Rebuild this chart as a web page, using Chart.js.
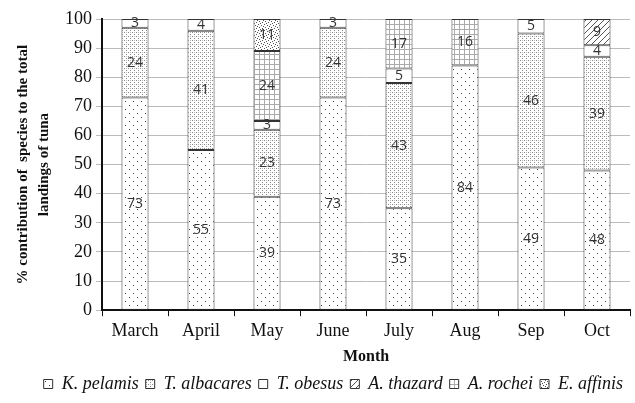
<!DOCTYPE html>
<html>
<head>
<meta charset="utf-8">
<script src="https://cdn.jsdelivr.net/npm/chart.js@4"></script>
<style>
  html, body { margin: 0; padding: 0; background: #fff; }
  #wrap { width: 635px; height: 403px; }
</style>
</head>
<body>
<div id="wrap"><canvas id="barChart" width="635" height="403"></canvas></div>
<script>
// data (percent of total tuna landings)
const months = ['March', 'April', 'May', 'June', 'July', 'Aug', 'Sep', 'Oct'];
const species = ['K. pelamis', 'T. albacares', 'T. obesus', 'A. thazard', 'A. rochei', 'E. affinis'];
const kPelamis   = [73, 55, 39, 73, 35, 84, 49, 48];
const tAlbacares = [24, 41, 23, 24, 43, null, 46, 39];
const tObesus    = [3, 4, 3, 3, 5, null, 5, 4];
const aThazard   = [null, null, null, null, null, null, null, 9];
const aRochei    = [null, null, 24, null, 17, 16, null, null];
const eAffinis   = [null, null, 11, null, null, null, null, null];
const yTicks = [0, 10, 20, 30, 40, 50, 60, 70, 80, 90, 100];

// fill patterns
function makePattern(size, draw) {
  const c = document.createElement('canvas');
  c.width = size; c.height = size;
  const g = c.getContext('2d');
  g.fillStyle = '#fff';
  g.fillRect(0, 0, size, size);
  draw(g);
  return g.createPattern(c, 'repeat');
}
const sparseDots = makePattern(8, g => {
  g.fillStyle = '#444';
  g.fillRect(1, 1, 1, 1);
  g.fillRect(5, 5, 1, 1);
});
const denseDots = makePattern(4, g => {
  g.fillStyle = '#888';
  g.fillRect(0, 0, 1, 1);
  g.fillRect(2, 2, 1, 1);
  g.fillStyle = '#bbb';
  g.fillRect(2, 0, 1, 1);
});
const plain = '#fff';
const hatch = makePattern(6, g => {
  g.strokeStyle = '#555';
  g.lineWidth = 1;
  g.beginPath();
  g.moveTo(0, 6); g.lineTo(6, 0);
  g.moveTo(-1, 1); g.lineTo(1, -1);
  g.moveTo(5, 7); g.lineTo(7, 5);
  g.stroke();
});
const grid = makePattern(5, g => {
  g.fillStyle = '#aaa';
  g.fillRect(0, 4, 5, 1);
  g.fillRect(4, 0, 1, 5);
});
const speckle = makePattern(6, g => {
  g.fillStyle = '#555';
  [[0,0],[3,1],[1,3],[4,4],[2,5],[5,2]].forEach(p => g.fillRect(p[0], p[1], 1, 1));
});

const fills = [sparseDots, denseDots, plain, hatch, grid, speckle];
const series = [kPelamis, tAlbacares, tObesus, aThazard, aRochei, eAffinis];

// numbers written in the middle of each segment
const segmentLabels = {
  id: 'segmentLabels',
  afterDatasetsDraw(chart) {
    const ctx = chart.ctx;
    ctx.save();
    ctx.font = '14px "Open Sans", "DejaVu Sans", sans-serif';
    ctx.fillStyle = '#333';
    ctx.textAlign = 'center';
    ctx.textBaseline = 'middle';
    chart.data.datasets.forEach((ds, i) => {
      const meta = chart.getDatasetMeta(i);
      meta.data.forEach((bar, j) => {
        const v = ds.data[j];
        if (v == null) return;
        ctx.fillText(v, bar.x, (bar.y + bar.base) / 2);
      });
    });
    ctx.restore();
  }
};

const serif = '"Liberation Serif", "Times New Roman", serif';

new Chart(document.getElementById('barChart').getContext('2d'), {
  type: 'bar',
  data: {
    labels: months,
    datasets: series.map((d, i) => ({
      label: species[i],
      data: d,
      backgroundColor: fills[i],
      borderColor: '#333',
      borderWidth: 1,
      borderSkipped: false,
      categoryPercentage: 1,
      barPercentage: 0.41,
    })),
  },
  options: {
    responsive: false,
    animation: false,
    layout: { padding: { top: 19, right: 5, left: 9, bottom: 0 } },
    scales: {
      x: {
        stacked: true,
        border: { color: '#111', width: 2 },
        grid: { drawOnChartArea: false, drawTicks: true, tickLength: 6, color: '#111' },
        ticks: { color: '#111', font: { family: serif, size: 18 }, padding: 4 },
        title: { display: true, text: 'Month', color: '#111', font: { family: serif, size: 16, weight: 'bold' }, padding: { top: 1, bottom: 2 } },
      },
      y: {
        stacked: true,
        min: 0,
        max: 100,
        afterBuildTicks: axis => { axis.ticks = yTicks.map(v => ({ value: v })); },
        border: { color: '#111', width: 2 },
        grid: { color: '#bbb', tickLength: 6 },
        ticks: { color: '#111', font: { family: serif, size: 18 }, padding: 4 },
        title: {
          display: true,
          text: ['% contribution of  species to the total', 'landings of tuna'],
          color: '#111',
          font: { family: serif, size: 15, weight: 'bold', lineHeight: 1.4 },
          padding: { bottom: 6 },
        },
      },
    },
    plugins: {
      legend: {
        position: 'bottom',
        align: 'end',
        labels: {
          color: '#111',
          font: { family: serif, size: 18, style: 'italic' },
          boxWidth: 9,
          boxHeight: 9,
          padding: 7,
        },
      },
      tooltip: { enabled: false },
    },
  },
  plugins: [segmentLabels],
});
</script>
</body>
</html>
